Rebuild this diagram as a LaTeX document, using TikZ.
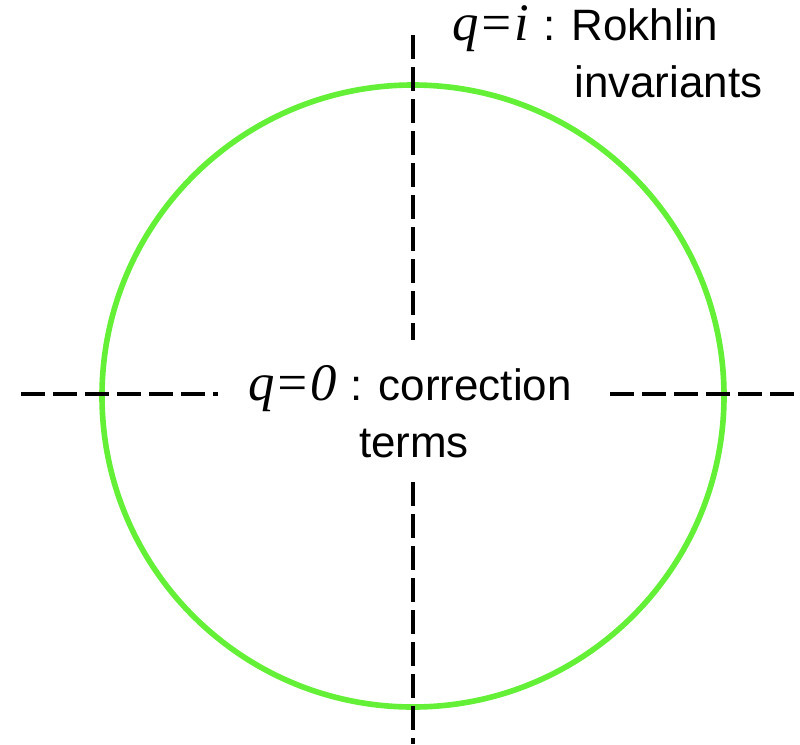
\documentclass[tikz,border=0pt]{standalone}
\usepackage{fontspec}
\setmainfont{Liberation Sans}
\newfontfamily\qfont{Liberation Serif}
\usetikzlibrary{positioning,calc}

\definecolor{ringgreen}{RGB}{100,240,55}

\begin{document}
\begin{tikzpicture}[
  axis/.style={draw=black, line width=1.9pt, dash pattern=on 0.48cm off 0.16cm},
  ring/.style={draw=ringgreen, line width=3.2pt},
  qlabel/.style={font=\fontsize{30}{36}\selectfont\qfont\itshape, inner sep=0pt, anchor=base west},
  desc/.style={font=\fontsize{25}{30}\selectfont, inner sep=0pt, anchor=base west}
  ]
\useasboundingbox (0,0) rectangle (16,14.88);

% Circle
\node[ring, circle, minimum size=12.44cm, inner sep=0pt] (disk) at (8.26,6.96) {};

% Axes, broken round the labels
\coordinate (vtop) at (8.26,14.18);
\coordinate (vhi) at (8.26,8.08);
\coordinate (vlo) at (8.26,5.24);
\coordinate (vbot) at (8.26,0);
\coordinate (hleft) at (0.42,7.0);
\coordinate (hlin) at (4.36,7.0);
\coordinate (hrin) at (12.2,7.0);
\coordinate (hright) at (16,7.0);

\draw[axis] (vtop) -- (vhi);
\draw[axis] (vlo) -- (vbot);
\draw[axis] (hleft) -- (hlin);
\draw[axis] (hrin) -- (hright);

% Labels at q=i
\node[qlabel] (qi) at (9.04,14.08) {q=i};
\node[desc] (rokhlin) at (10.86,14.08) {: Rokhlin};
\node[desc] (invariants) at (11.48,12.94) {invariants};

% Labels at q=0
\node[qlabel] (qzero) at (4.96,6.88) {q=0};
\node[desc] (correction) at (7.0,6.88) {: correction};
\node[desc, anchor=base] (terms) at (8.28,5.74) {terms};

\end{tikzpicture}
\end{document}
